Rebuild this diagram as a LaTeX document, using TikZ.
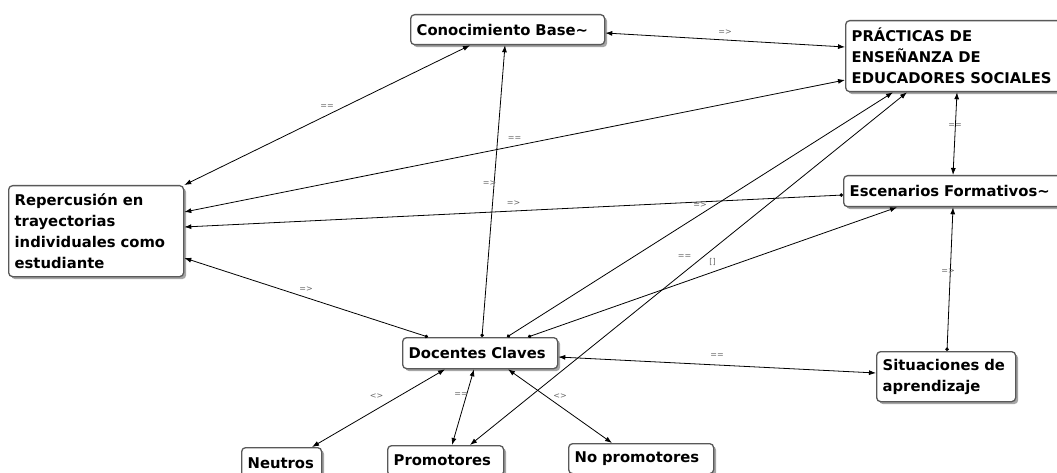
\documentclass[tikz,border=0pt]{standalone}
\usepackage{fontspec}
\setmainfont{DejaVu Sans}
\usetikzlibrary{arrows.meta,shadows,calc}
\begin{document}
\begin{tikzpicture}[x=1pt,y=-1pt,
  box/.style={draw=black!65, line width=1.3pt, rounded corners=4pt, fill=white,
    anchor=north west, align=left, inner xsep=6pt, inner ysep=0pt,
    font=\bfseries\fontsize{14.8}{21}\selectfont,
    drop shadow={shadow xshift=2.5pt, shadow yshift=-2.5pt, fill=black, opacity=0.35}},
  lnk/.style={line width=0.8pt, black},
  lab/.style={font=\fontsize{8}{8}\selectfont, text=black!60, inner sep=0pt},
  AA/.style={lnk,{Latex[length=7pt,width=5pt]}-{Latex[length=7pt,width=5pt]}},
  DA/.style={lnk,{Circle[length=3.5pt]}-{Latex[length=7pt,width=5pt]}}]
\useasboundingbox (0,0) rectangle (1057,473);
\clip (0,0) rectangle (1057,473);
\fill[white] (0,0) rectangle (1057,473);

% nodes
\node[box, text width=182pt, minimum height=30pt] (conoc) at (410,14) {Conocimiento Base\textasciitilde};
\node[box, text width=208pt, minimum height=71pt] (prac) at (845,20) {PRÁCTICAS DE\\ENSEÑANZA DE\\EDUCADORES SOCIALES};
\node[box, text width=163pt, minimum height=91pt] (rep) at (8,185) {Repercusión en\\trayectorias\\individuales como\\estudiante};
\node[box, text width=208pt, minimum height=31pt] (esc) at (843,175) {Escenarios Formativos\textasciitilde};
\node[box, text width=143pt, minimum height=31pt] (doc) at (402,337) {Docentes Claves};
\node[box, text width=127pt, minimum height=50pt] (sit) at (876,351) {Situaciones de\\aprendizaje};
\node[box, text width=68pt, minimum height=32pt] (neu) at (241,447) {Neutros};
\node[box, text width=104pt, minimum height=30pt] (prom) at (387,445) {Promotores};
\node[box, text width=133pt, minimum height=30pt] (nop) at (568,443) {No promotores};

% connectors
\draw[AA] ($(conoc.north east)+(0,19)$) -- ($(prac.north west)+(0,27)$)
  node[lab, midway, yshift=8pt] {=>};
\draw[AA] ($(conoc.south west)+(60,0)$) -- (rep.north east)
  node[lab, midway, yshift=8pt] {==};
\draw[lnk,{Latex[length=7pt,width=5pt]}-{Circle[length=3.5pt]}] ($(conoc.south west)+(95,0)$) -- ($(doc.north west)+(80,0)$)
  node[lab, midway, yshift=8pt, xshift=-4pt] {=>};
\draw[AA] ($(prac.north west)+(0,60)$) -- ($(rep.north east)+(0,27)$)
  node[lab, midway, yshift=7pt] {==};
\draw[DA] ($(esc.north west)+(0,20)$) -- ($(rep.north east)+(0,42)$)
  node[lab, midway, yshift=8pt] {=>};
\draw[DA] ($(doc.north west)+(26,0)$) -- ($(rep.north east)+(0,73)$)
  node[lab, midway, yshift=8pt] {=>};
\draw[DA] ($(doc.north west)+(105,0)$) -- ($(prac.south west)+(48,0)$)
  node[lab, midway, yshift=9pt] {=>};
\draw[DA] ($(doc.north west)+(126,0)$) -- ($(esc.south west)+(54,0)$)
  node[lab, midway, yshift=10pt] {[]};
\draw[AA] ($(prom.north west)+(83,0)$) -- ($(prac.south west)+(62,0)$)
  node[lab, midway, yshift=12pt, xshift=-4pt] {==};
\draw[AA] ($(prac.south west)+(112,0)$) -- ($(esc.north west)+(110,0)$)
  node[lab, midway, yshift=8pt] {==};
\draw[lnk,{Latex[length=7pt,width=5pt]}-{Circle[length=3.5pt]}] ($(esc.south west)+(110,0)$) -- ($(sit.north west)+(71,0)$)
  node[lab, midway, yshift=8pt, xshift=-2pt] {=>};
\draw[AA] ($(doc.north east)+(0,20)$) -- ($(sit.north west)+(0,22)$)
  node[lab, midway, yshift=9pt] {==};
\draw[AA] ($(doc.south west)+(43,0)$) -- ($(neu.north west)+(71,0)$)
  node[lab, midway, yshift=12pt, xshift=-2pt] {<>};
\draw[AA] ($(doc.south west)+(72,0)$) -- ($(prom.north west)+(65,0)$)
  node[lab, midway, yshift=12pt, xshift=-2pt] {==};
\draw[AA] ($(doc.south west)+(106,0)$) -- ($(nop.north west)+(44,0)$)
  node[lab, midway, yshift=10pt] {<>};
\end{tikzpicture}
\end{document}
